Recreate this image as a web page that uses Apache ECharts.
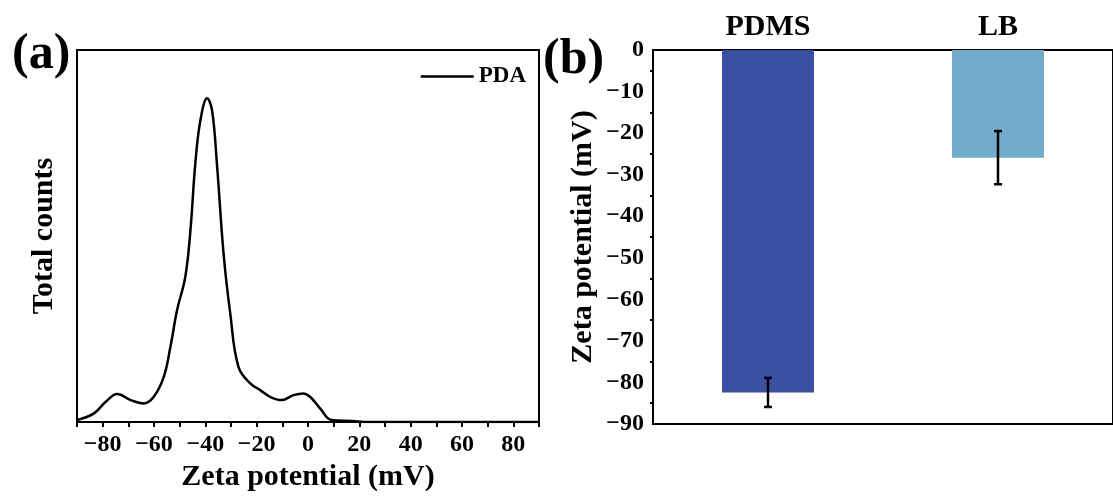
<!DOCTYPE html>
<html>
<head>
<meta charset="utf-8">
<script src="https://cdn.jsdelivr.net/npm/echarts@6/dist/echarts.min.js"></script>
<style>
  html, body { margin: 0; padding: 0; background: #fff; }
  #main { width: 1113px; height: 497px; }
</style>
</head>
<body>
<div id="main"></div>
<script>
// (a) zeta potential distribution, counts in arbitrary units
const zetaX = [-90, -83.4, -78.8, -74.3, -69.1, -64.0, -60.1, -56.2, -53.6, -51.0, -47.8, -45.8, -43.9, -41.9, -39.3, -37.4, -35.5, -32.9, -30.3, -27.1, -22.5, -18.6, -14.8, -10.2, -5.7, -1.8, 0.8, 4.7, 9.2, 17.5, 22, 90];
const counts = [2, 8.7, 20.3, 28, 22, 18.7, 25.3, 45.3, 75.3, 112, 145.3, 192, 258.7, 302, 323.7, 312, 258.7, 168.7, 108.7, 55.3, 38.7, 32, 25.3, 22, 27, 28.7, 25.3, 13.7, 2, 1, 0, 0];

// (b) mean zeta potential with error
const samples = ['PDMS', 'LB'];
const zetaMean = [-82.4, -25.9];
const zetaErr = [3.5, 6.4];
const barColors = ['#3A51A3', '#72ABCC'];

const serif = '"Liberation Serif", "Times New Roman", serif';
const minus = v => String(v).replace('-', '\u2212');

const chartDom = document.getElementById('main');
const myChart = echarts.init(chartDom);
let option;
option = {
  animation: false,
  textStyle: { fontFamily: serif },
  graphic: [
    { type: 'text', left: 12, top: 30, style: { text: '(a)', font: 'bold 50px ' + serif, fill: '#000' } },
    { type: 'text', left: 543, top: 35, style: { text: '(b)', font: 'bold 50px ' + serif, fill: '#000' } }
  ],
  legend: {
    data: [{ name: 'PDA', icon: 'rect' }],
    right: 582,
    top: 60,
    itemWidth: 53,
    itemHeight: 2.5,
    itemGap: 6,
    itemStyle: { color: '#000', borderWidth: 0 },
    textStyle: { fontFamily: serif, fontWeight: 'bold', fontSize: 23, color: '#000' }
  },
  grid: [
    { left: 77, right: 574, top: 50, bottom: 73, show: true, borderColor: '#000', borderWidth: 2 },
    { left: 653, right: -4, top: 50, bottom: 73, show: true, borderColor: '#000', borderWidth: 2 }
  ],
  xAxis: [
    {
      type: 'value', gridIndex: 0, min: -90, max: 90, interval: 10,
      splitLine: { show: false },
      axisLine: { onZero: false, lineStyle: { color: '#000', width: 2 } },
      axisTick: { length: 5, lineStyle: { color: '#000', width: 2 } },
      axisLabel: {
        margin: 11, color: '#000', fontSize: 24, fontWeight: 'bold', fontFamily: serif,
        formatter: v => (v % 20 === 0 ? minus(v) : '')
      },
      name: 'Zeta potential (mV)', nameLocation: 'middle', nameGap: 36,
      nameTextStyle: { fontSize: 30, fontWeight: 'bold', color: '#000', fontFamily: serif }
    },
    {
      type: 'category', gridIndex: 1, position: 'top', data: samples,
      axisLine: { lineStyle: { color: '#000', width: 2 } },
      axisTick: { inside: true, alignWithLabel: true, length: 7, lineStyle: { color: '#000', width: 2 } },
      axisLabel: { margin: 8, color: '#000', fontSize: 30, fontWeight: 'bold', fontFamily: serif }
    },
    {
      type: 'category', gridIndex: 1, position: 'top', data: samples,
      axisLine: { show: false },
      axisTick: { inside: true, length: 3, lineStyle: { color: '#000', width: 2 } },
      axisLabel: { show: false }
    }
  ],
  yAxis: [
    {
      type: 'value', gridIndex: 0, min: 0, max: 372,
      splitLine: { show: false },
      axisLine: { show: true, onZero: false, lineStyle: { color: '#000', width: 2 } },
      axisTick: { show: false },
      axisLabel: { show: false },
      name: 'Total counts', nameLocation: 'middle', nameGap: 18,
      nameTextStyle: { fontSize: 30, fontWeight: 'bold', color: '#000', fontFamily: serif }
    },
    {
      type: 'value', gridIndex: 1, min: -90, max: 0, interval: 10,
      splitLine: { show: false },
      axisLine: { show: true, onZero: false, lineStyle: { color: '#000', width: 2 } },
      axisTick: { length: 6, lineStyle: { color: '#000', width: 2 } },
      minorTick: { show: true, splitNumber: 2, length: 3, lineStyle: { color: '#000', width: 2 } },
      axisLabel: {
        margin: 9, color: '#000', fontSize: 24, fontWeight: 'bold', fontFamily: serif,
        formatter: v => minus(v)
      },
      name: 'Zeta potential (mV)', nameLocation: 'middle', nameGap: 55,
      nameTextStyle: { fontSize: 30, fontWeight: 'bold', color: '#000', fontFamily: serif }
    }
  ],
  series: [
    {
      name: 'PDA', type: 'line', xAxisIndex: 0, yAxisIndex: 0,
      data: zetaX.map((x, i) => [x, counts[i]]),
      smooth: 0.4, symbol: 'none',
      lineStyle: { color: '#000', width: 2.5 },
      itemStyle: { color: '#000' }
    },
    {
      name: 'Zeta', type: 'bar', xAxisIndex: 1, yAxisIndex: 1,
      barWidth: '40%',
      data: zetaMean.map((v, i) => ({ value: v, itemStyle: { color: barColors[i] } }))
    },
    {
      name: 'err', type: 'custom', xAxisIndex: 1, yAxisIndex: 1,
      data: zetaMean.map((v, i) => [i, v - zetaErr[i], v + zetaErr[i]]),
      renderItem: function (params, api) {
        const lo = api.coord([api.value(0), api.value(1)]);
        const hi = api.coord([api.value(0), api.value(2)]);
        const cap = 4;
        const style = { stroke: '#000', lineWidth: 2.5 };
        return {
          type: 'group',
          children: [
            { type: 'line', shape: { x1: lo[0], y1: lo[1], x2: hi[0], y2: hi[1] }, style },
            { type: 'line', shape: { x1: lo[0] - cap, y1: lo[1], x2: lo[0] + cap, y2: lo[1] }, style },
            { type: 'line', shape: { x1: hi[0] - cap, y1: hi[1], x2: hi[0] + cap, y2: hi[1] }, style }
          ]
        };
      },
      z: 10
    }
  ]
};

option && myChart.setOption(option);
</script>
</body>
</html>
